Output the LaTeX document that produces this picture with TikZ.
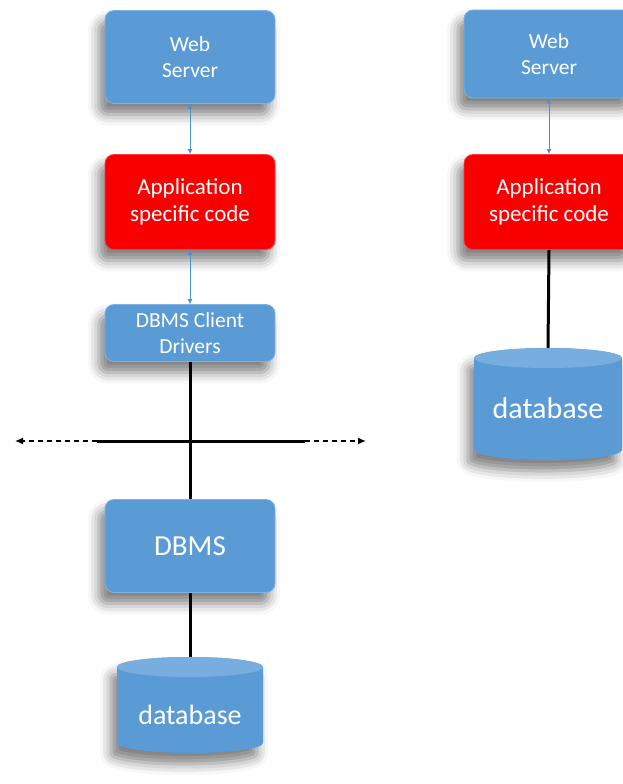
\documentclass[tikz,border=0pt]{standalone}
\usepackage{fontspec}
\setmainfont{Carlito}
\usetikzlibrary{arrows.meta,shadows.blur}

\definecolor{boxblue}{HTML}{5B9BD5}
\definecolor{boxedge}{HTML}{7DB2E2}
\definecolor{boxred}{HTML}{F80000}
\definecolor{rededge}{HTML}{FF3A3A}
\definecolor{linkblue}{HTML}{4F8DCB}
\definecolor{captop}{HTML}{78AEDF}

\tikzset{
  softshadow/.style={blur shadow={shadow xshift=-6pt, shadow yshift=-11pt,
                     shadow blur radius=11pt, shadow opacity=50}},
  tier/.style={rectangle, rounded corners=9pt, fill=boxblue, draw=boxedge,
               line width=0.8pt, text=white, align=center, softshadow,
               minimum width=170pt, inner sep=2pt,
               font=\fontsize{21.5}{26}\selectfont},
  appcode/.style={tier, fill=boxred, draw=rededge,
                  font=\fontsize{23}{27}\selectfont},
  bigtier/.style={tier, font=\fontsize{29}{32}\selectfont},
  dbslot/.style={rectangle, minimum width=146pt, text=white,
                 font=\fontsize{28}{30}\selectfont},
  link/.style={linkblue, line width=0.8pt,
               {Latex[length=5pt,width=5pt]}-{Latex[length=5pt,width=5pt]}},
  wire/.style={black, line width=3pt},
  reach/.style={black, line width=1.4pt, dashed, dash pattern=on 5pt off 4pt,
                -{Latex[length=8pt,width=7pt]}},
}

% database cylinder: #1 centre x, #2 top y, #3 bottom y, #4 half width
\newcommand{\dbdrum}[4]{%
  \fill[boxblue, softshadow]
    (#1-#4,#2-10) -- (#1-#4,#3+10)
    arc[start angle=180, end angle=360, x radius=#4, y radius=10]
    -- (#1+#4,#2-10)
    arc[start angle=0, end angle=180, x radius=#4, y radius=10] -- cycle;
  \fill[captop] (#1,#2-10) ellipse[x radius=#4, y radius=10];
}

\begin{document}
\begin{tikzpicture}[x=1pt, y=1pt]
  \useasboundingbox (0,0) rectangle (623,-784);

  % ---------- three-tier stack (left) ----------
  \node[tier, minimum height=93pt] (ws1) at (190,-57) {Web\\Server};
  \node[appcode, minimum height=95pt] (app1) at (190,-202) {Application\\specific code};
  \node[tier, minimum height=57pt] (drv) at (190,-333) {DBMS Client\\Drivers};
  \node[bigtier, minimum height=93pt] (dbms) at (190,-546) {DBMS};

  \dbdrum{190}{-657}{-753}{73}
  \node[dbslot, minimum height=96pt] (db1) at (190,-705) {};
  \node[dbslot] (db1label) at (190,-715) {database};

  \draw[link] (ws1.south) -- (app1.north);
  \draw[link] (app1.south) -- (drv.north);

  % network boundary
  \coordinate (netL) at (97,-441);
  \coordinate (netR) at (305,-441);
  \coordinate (farL) at (15,-441);
  \coordinate (farR) at (366,-441);
  \draw[wire] (drv.south) -- (dbms.north);
  \draw[wire] (netL) -- (netR);
  \draw[reach] (netL) -- (farL);
  \draw[reach] (netR) -- (farR);
  \draw[wire] (dbms.south) -- (db1.north);

  % ---------- embedded stack (right) ----------
  \node[tier, minimum height=88pt] (ws2) at (549,-54) {Web\\Server};
  \node[appcode, minimum height=95pt] (app2) at (549,-202) {Application\\specific code};

  \dbdrum{548}{-348}{-460}{74}
  \node[dbslot, minimum height=112pt] (db2) at (548,-404) {};
  \node[dbslot, font=\fontsize{30}{32}\selectfont] (db2label) at (548,-408) {database};

  \draw[link] (ws2.south) -- (app2.north);
  \draw[wire] (app2.south) -- (db2.north);
\end{tikzpicture}
\end{document}
